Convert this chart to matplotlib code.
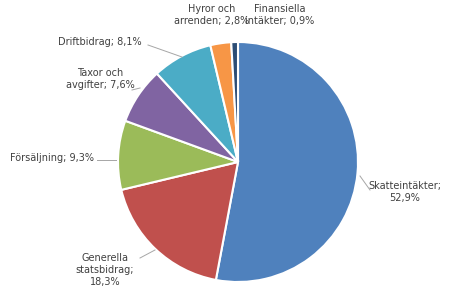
import matplotlib
matplotlib.use("Agg")
import matplotlib.pyplot as plt

kategorier = ["Skatteintäkter", "Generella statsbidrag", "Försäljning",
              "Taxor och avgifter", "Driftbidrag", "Hyror och arrenden",
              "Finansiella intäkter"]
andelar = [52.9, 18.3, 9.3, 7.6, 8.1, 2.8, 0.9]
etiketter = ["Skatteintäkter;\n52,9%", "Generella\nstatsbidrag;\n18,3%",
             "Försäljning; 9,3%", "Taxor och\navgifter; 7,6%",
             "Driftbidrag; 8,1%", "Hyror och\narrenden; 2,8%",
             "Finansiella\nintäkter; 0,9%"]
farger = ["#4F81BD", "#C0504D", "#9BBB59", "#8064A2", "#4BACC6", "#F79646", "#2C4D75"]

# label text positions (pixels, y from top) and leader lines
text_pos = [(405, 192), (105, 270), (52, 158), (100, 79), (100, 42), (212, 15), (280, 15)]
leaders = [[(360, 176), (370, 190)], [(155, 250), (140, 258)], [(116, 160), (97, 160)],
           [(140, 88), (132, 90)], [(182, 57), (148, 45)], None, None]

fig = plt.figure(figsize=(4.5, 3.03), dpi=100)
ax = fig.add_axes([0, 0, 1, 1])

ax.pie(andelar, colors=farger, startangle=90, counterclock=False,
       center=(238, 303 - 162), radius=120,
       wedgeprops=dict(edgecolor="white", linewidth=1.5))
ax.set_xlim(0, 450)
ax.set_ylim(0, 303)
ax.set_aspect("auto")
ax.axis("off")

for i, txt in enumerate(etiketter):
    x, y = text_pos[i]
    ax.text(x, 303 - y, txt, ha="center", va="center", fontsize=7,
            color="#404040", linespacing=1.3)
    if leaders[i]:
        (x0, y0), (x1, y1) = leaders[i]
        ax.plot([x0, x1], [303 - y0, 303 - y1], color="#A6A6A6", lw=0.7)

fig.savefig("out.png", dpi=100)
